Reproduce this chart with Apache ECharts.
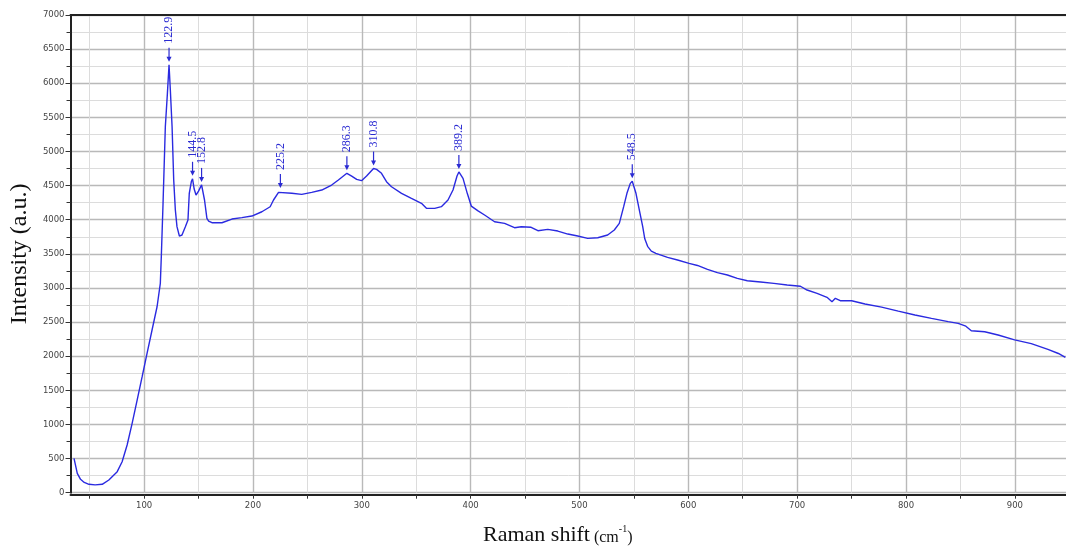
<!DOCTYPE html>
<html>
<head>
<meta charset="utf-8">
<script src="https://cdn.jsdelivr.net/npm/echarts@6/dist/echarts.min.js"></script>
<style>
  html, body { margin: 0; padding: 0; background: #fff; }
  #chart { width: 1066px; height: 548px; }
</style>
</head>
<body>
<div id="chart"></div>
<script>
// Raman spectrum: shift (cm-1) and intensity (a.u.)
const shift = [
  35.6, 38.6, 41.6, 45, 49.3, 55, 61.5, 67.6, 75.3, 79.8, 84.4, 89, 93.6, 98.2,
  102.7, 107.3, 111.9, 114.9, 115.8, 117.4, 119.5, 121.4, 122.9, 124.1, 125.7,
  127.2, 128.7, 130.2, 132.4, 134.8, 137.9, 140.3, 141.5, 143.4, 144.5, 146,
  147.7, 150, 152.8, 155.5, 157.7, 159.3, 162.3, 171.5, 180.7, 189.8, 199,
  208.2, 215.8, 218.9, 223.5, 225.2, 235.7, 244.8, 254, 263.2, 272.3, 278.5,
  286.3, 290.7, 295.3, 299.8, 304.4, 310.8, 313.6, 318.1, 322.7, 327.3, 336.5,
  345.6, 354.8, 359.4, 367, 373.1, 379.2, 383.8, 387.5, 389.2, 393, 396.9,
  400.6, 406.8, 412.8, 422, 431.2, 440.3, 446.5, 455.6, 461.8, 470.9, 480.1,
  489.3, 498.4, 507.6, 516.8, 525.9, 532, 536.6, 540.6, 543.6, 546.7, 548.5,
  551.9, 555, 558.1, 560, 562.6, 566, 570.2, 580.9, 590.1, 600.7, 608.4, 617.6,
  626.7, 635.9, 645, 654.2, 666.4, 678.6, 690.8, 703, 709.1, 718.3, 727.4, 732,
  735.1, 739.6, 750.1, 762.3, 777.6, 792.9, 808.2, 823.4, 838.7, 847.9, 855,
  860, 872.3, 884.6, 899.8, 915.1, 930.4, 940, 946.4
];
const intensity = [
  504, 284, 196, 150, 123, 115, 123, 186, 308, 454, 699, 1017, 1358, 1700,
  2042, 2384, 2725, 3068, 3458, 4240, 5363, 5852, 6270, 5900, 5363,
  4582, 4142, 3898, 3761, 3776, 3898, 3996, 4387, 4560, 4600, 4450,
  4362, 4420, 4510, 4289, 4020, 3980, 3956, 3956, 4010, 4030, 4054,
  4117, 4190, 4289, 4401, 4420, 4387, 4372, 4401, 4435, 4508, 4582,
  4680, 4640, 4592, 4572, 4640, 4750, 4738, 4680, 4557, 4483, 4387,
  4313, 4240, 4167, 4167, 4191, 4289, 4435, 4640, 4700, 4606, 4387,
  4200, 4130, 4069, 3970, 3947, 3883, 3898, 3889, 3839, 3859, 3834,
  3790, 3761, 3727, 3736, 3776, 3849, 3947, 4191, 4387, 4533, 4565,
  4387, 4142, 3898, 3720, 3610, 3540, 3508, 3449, 3410, 3361, 3330, 3273,
  3224, 3190, 3141, 3106, 3087, 3068, 3043, 3025, 2970, 2922, 2863, 2799,
  2848, 2813, 2813, 2765, 2720, 2660, 2604, 2555, 2506, 2482, 2440,
  2374, 2359, 2311, 2240, 2185, 2100, 2040, 1984
];

// Labelled peak positions (cm-1)
const peaks = [122.9, 144.5, 152.8, 225.2, 286.3, 310.8, 389.2, 548.5];

// Axis ticks
const xLabelTicks = [100, 200, 300, 400, 500, 600, 700, 800, 900];
const xMinorTicks = [50, 100, 150, 200, 250, 300, 350, 400, 450, 500, 550, 600, 650, 700, 750, 800, 850, 900];

const spectrum = shift.map((s, i) => [s, intensity[i]]);
const peakPoints = peaks.map(p => [p, intensity[shift.indexOf(p)]]);

const X_MIN = 32.4, X_MAX = 947;
const blue = '#2a2ae0';
const labelBlue = '#2b2bd2';

const chart = echarts.init(document.getElementById('chart'), null, { renderer: 'canvas' });

chart.setOption({
  animation: false,
  backgroundColor: '#ffffff',
  grid: { left: 68, right: 0, top: 15, bottom: 55.3, containLabel: false },
  title: {
    text: '{a|Raman shift}{b| (cm}{c|-1}{b|)}',
    left: 478,
    top: 519,
    textStyle: {
      fontWeight: 'normal',
      rich: {
        a: { fontFamily: 'Liberation Serif', fontSize: 22, fontWeight: 'normal', color: '#111' },
        b: { fontFamily: 'Liberation Serif', fontSize: 16, fontWeight: 'normal', color: '#111', verticalAlign: 'bottom', padding: [6, 0, 0, 0] },
        c: { fontFamily: 'Liberation Serif', fontSize: 10, fontWeight: 'normal', color: '#111', verticalAlign: 'top', padding: [0, 0, 8, 0] }
      }
    }
  },
  xAxis: [
    {
      type: 'value', min: X_MIN, max: X_MAX, position: 'bottom', offset: 2,
      axisLine: { show: true, onZero: false, lineStyle: { color: '#222', width: 2 } },
      axisTick: { show: true, length: 4, customValues: xMinorTicks, lineStyle: { color: '#333', width: 1 } },
      axisLabel: {
        customValues: xLabelTicks, margin: 7,
        formatter: v => String(v),
        fontFamily: 'DejaVu Sans', fontSize: 8.5, color: '#444'
      },
      splitLine: { show: true, lineStyle: { color: '#dcdcdc', width: 1 } }
    },
    {
      type: 'value', min: X_MIN, max: X_MAX, position: 'bottom',
      axisLine: { show: false },
      axisTick: { show: false, customValues: xLabelTicks },
      axisLabel: { show: false, customValues: xLabelTicks },
      splitLine: { show: true, lineStyle: { color: '#b9b9b9', width: 1.4 } }
    },
    {
      type: 'value', min: X_MIN, max: X_MAX, position: 'top',
      axisLine: { show: true, lineStyle: { color: '#222', width: 2 } },
      axisTick: { show: false },
      axisLabel: { show: false },
      splitLine: { show: false }
    }
  ],
  yAxis: {
    type: 'value', min: 0, max: 7000, interval: 500,
    name: 'Intensity (a.u.)',
    nameLocation: 'middle',
    nameGap: 31,
    nameTextStyle: { fontFamily: 'Liberation Serif', fontSize: 24, color: '#111' },
    axisLine: { show: true, lineStyle: { color: '#222', width: 2 } },
    axisTick: { show: true, length: 5, lineStyle: { color: '#333' } },
    minorTick: { show: true, splitNumber: 2, length: 4, lineStyle: { color: '#333' } },
    axisLabel: { margin: 6, formatter: v => String(v), fontFamily: 'DejaVu Sans', fontSize: 8.5, color: '#444' },
    splitLine: { show: true, lineStyle: { color: '#b9b9b9', width: 1.4 } },
    minorSplitLine: { show: true, lineStyle: { color: '#dcdcdc', width: 1 } }
  },
  series: [
    {
      type: 'line',
      data: spectrum,
      xAxisIndex: 0,
      showSymbol: false,
      smooth: false,
      lineStyle: { color: blue, width: 1.4 },
      z: 3
    },
    {
      // peak markers: arrow pointing at the peak, rotated position label above
      type: 'custom',
      xAxisIndex: 0,
      data: peakPoints,
      z: 4,
      renderItem: function (params, api) {
        const x = api.value(0);
        const pt = api.coord([x, api.value(1)]);
        const tip = pt[1] - 3;
        const top = tip - 14;
        return {
          type: 'group',
          children: [
            { type: 'line', shape: { x1: pt[0], y1: top, x2: pt[0], y2: tip - 4 },
              style: { stroke: labelBlue, lineWidth: 1.2 } },
            { type: 'polygon', shape: { points: [[pt[0] - 2.5, tip - 5], [pt[0] + 2.5, tip - 5], [pt[0], tip]] },
              style: { fill: labelBlue } },
            { type: 'text', x: pt[0], y: top - 4, rotation: Math.PI / 2,
              style: { text: x.toFixed(1), fill: labelBlue, font: '12px "Liberation Serif"',
                       align: 'left', verticalAlign: 'middle' } }
          ]
        };
      }
    }
  ]
});
</script>
</body>
</html>
